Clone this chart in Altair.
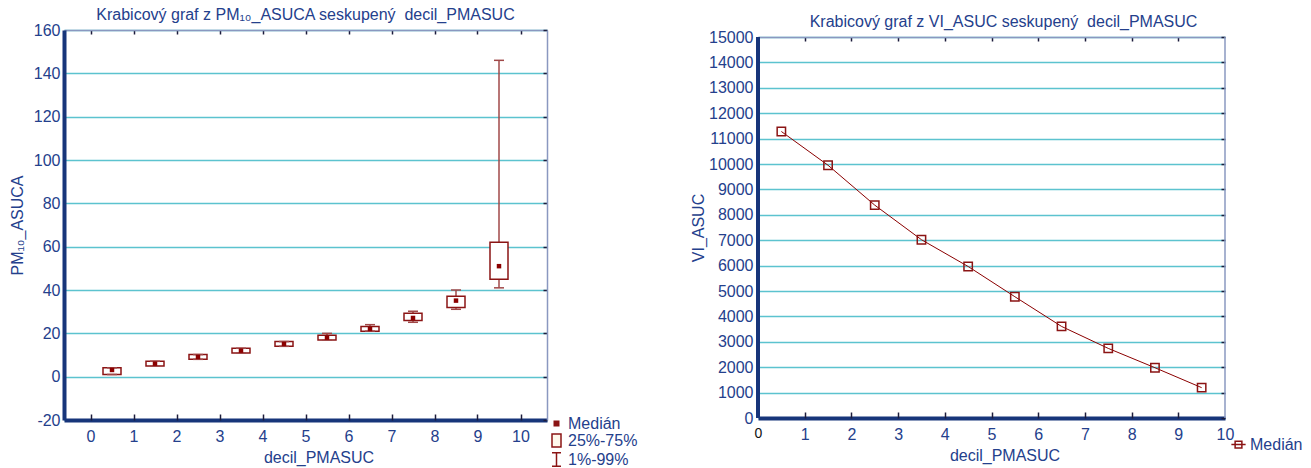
import altair as alt
import pandas as pd

# ---------------- data ----------------
decil_pos = [0.5, 1.5, 2.5, 3.5, 4.5, 5.5, 6.5, 7.5, 8.5, 9.5]

# PM10_ASUCA box plot (1%, 25%, median, 75%, 99%)
pm_p01 = [1.0, 4.9, 8.0, 10.9, 14.0, 16.9, 21.0, 25.1, 31.1, 41.0]
pm_q1 = [1.0, 4.9, 8.0, 10.9, 14.0, 16.9, 21.0, 25.9, 31.9, 45.0]
pm_med = [3.1, 6.0, 9.1, 12.0, 15.1, 18.0, 22.0, 27.1, 35.1, 51.0]
pm_q3 = [4.1, 7.1, 10.2, 13.1, 16.2, 19.1, 23.1, 29.3, 37.1, 62.0]
pm_p99 = [4.1, 7.1, 10.2, 13.1, 16.2, 20.0, 24.0, 30.2, 40.0, 146.0]

# VI_ASUC medians
vi_med = [11280, 9950, 8380, 7020, 5965, 4775, 3605, 2740, 1980, 1195]

left_legend_labels = ["Medián", "25%-75%", "1%-99%"]
right_legend_labels = ["Medián"]

left_x_ticks = list(range(0, 11))
left_y_ticks = list(range(-20, 161, 20))
right_x_ticks = list(range(0, 11))
right_x_inner = list(range(1, 10))
right_y_ticks = list(range(0, 15001, 1000))
right_y_max = 15000

# ---------------- styles ----------------
FONT = "Liberation Sans"
NAVY = "#24408c"
AXIS = "#17357a"
BORDER = "#8a98c0"
GRID = "#5cc3cf"
RED = "#8b1414"
DARK = "#8b0000"
WHISK = "#a04848"
TICK = "#1c1c3c"

W1, H1 = 483, 390
W2, H2 = 467, 388      # right panel drawn 7 px lower inside this area
H2_TOP_GAP = 7

box_df = pd.DataFrame({"decil": decil_pos, "p01": pm_p01, "q1": pm_q1,
                       "med": pm_med, "q3": pm_q3, "p99": pm_p99})
caps_df = pd.DataFrame({"decil": decil_pos + decil_pos, "val": pm_p01 + pm_p99})
vi_df = pd.DataFrame({"decil": decil_pos, "vi": vi_med})
leg1_df = pd.DataFrame({"decil": [-5.0] * 3, "val": [0.0] * 3, "leg": left_legend_labels})
leg2_df = pd.DataFrame({"decil": [-5.0], "vi": [0.0], "leg2": right_legend_labels})
one_df = pd.DataFrame({"k": [0]})

HYPHEN_LABEL = "datum.value < 0 ? '-' + abs(datum.value) : '' + datum.value"


def txt_axis(**kw):
    base = dict(labelFont=FONT, labelFontSize=16, labelColor=NAVY, titleFont=FONT,
                titleFontSize=16, titleColor=NAVY, titleFontWeight="normal",
                labelFlush=False, labelOverlap=False, ticks=False, tickSize=0)
    base.update(kw)
    return alt.Axis(**base)


def border_axis(orient, offset, values, domain=True, size=4):
    return alt.Axis(orient=orient, offset=offset, values=values, labels=False, title=None,
                    grid=False, domain=domain, domainColor=BORDER, domainWidth=1.5,
                    ticks=True, tickColor=TICK, tickSize=size, tickWidth=1.5)


# ---------------- left chart ----------------
xs1 = alt.Scale(domain=[-0.5, 10.5], nice=False, zero=False)
ys1 = alt.Scale(domain=[-20, 160], nice=False, zero=False)

x_main1 = txt_axis(orient="bottom", values=left_x_ticks, title="decil_PMASUC", grid=False,
                   domainColor=AXIS, domainWidth=4, labelPadding=8, titlePadding=5,
                   titleX=W1 / 2 + 13)
y_main1 = txt_axis(orient="left", values=left_y_ticks, title="PM₁₀_ASUCA", grid=True,
                   gridColor=GRID, gridWidth=1.5, domainColor=AXIS, domainWidth=4,
                   labelPadding=4, titlePadding=8, labelExpr=HYPHEN_LABEL)

whisk = alt.Chart(box_df).mark_rule(color=WHISK, strokeWidth=1.5).encode(
    x=alt.X("decil:Q", scale=xs1, axis=x_main1),
    y=alt.Y("p01:Q", scale=ys1, axis=y_main1),
    y2="p99:Q",
)
caps = alt.Chart(caps_df).mark_tick(orient="horizontal", size=10, thickness=1.5,
                                    color=WHISK, opacity=1).encode(
    x=alt.X("decil:Q", scale=xs1, axis=None),
    y=alt.Y("val:Q", scale=ys1, axis=None),
)
boxes = alt.Chart(box_df).mark_bar(size=18, fill="white", stroke=RED,
                                   strokeWidth=1.5).encode(
    x=alt.X("decil:Q", scale=xs1, axis=None),
    y=alt.Y("q1:Q", scale=ys1, axis=None),
    y2="q3:Q",
)
meds = alt.Chart(box_df).mark_square(size=20, color=DARK, opacity=1).encode(
    x=alt.X("decil:Q", scale=xs1, axis=None),
    y=alt.Y("med:Q", scale=ys1, axis=None),
)
frame1 = alt.Chart(box_df).mark_point(opacity=0).encode(
    x=alt.X("decil:Q", scale=xs1, axis=border_axis("bottom", -H1, left_x_ticks)),
    y=alt.Y("med:Q", scale=ys1, axis=border_axis("left", -W1, left_y_ticks)),
)
inner1 = alt.Chart(box_df).mark_point(opacity=0).encode(
    x=alt.X("decil:Q", scale=xs1, axis=border_axis("top", -H1, left_x_ticks, domain=False, size=6)),
    y=alt.Y("med:Q", scale=ys1, axis=None),
)

leg1 = alt.Legend(orient="none", legendX=484, legendY=385, title=None, labelFont=FONT,
                  labelFontSize=16, labelColor=NAVY, symbolSize=225, symbolStrokeWidth=1.5,
                  rowPadding=-3.5, labelOffset=3, padding=0, symbolOpacity=1)
# median: nested squares so the stroke fills it solid; box; whisker I-beam
leg1_paths = ["M-0.3,-0.3H0.3V0.3H-0.3ZM-0.1,-0.1H0.1V0.1H-0.1Z",
              "M-0.6,-0.87H0.6V0.87H-0.6Z",
              "M-0.6,-0.9H0.6M0,-0.9V0.9M-0.6,0.9H0.6"]
legend1 = alt.Chart(leg1_df).mark_point(clip=True, opacity=1, strokeWidth=1.5,
                                        fill="#fff8ec", stroke=RED).encode(
    x=alt.X("decil:Q", scale=xs1, axis=None),
    y=alt.Y("val:Q", scale=ys1, axis=None),
    shape=alt.Shape("leg:N", sort=left_legend_labels,
                    scale=alt.Scale(domain=left_legend_labels, range=leg1_paths), legend=leg1),
)

left = alt.layer(whisk, boxes, caps, meds, frame1, inner1, legend1).resolve_axis(
    x="independent", y="independent"
).properties(
    width=W1, height=H1,
    title=alt.TitleParams("Krabicový graf z PM₁₀_ASUCA seskupený \u00a0decil_PMASUC",
                          font=FONT, fontSize=16, fontWeight="normal", color=NAVY, offset=-1),
)

# ---------------- right chart ----------------
xs2 = alt.Scale(domain=[0, 10], nice=False, zero=False)
ys2 = alt.Scale(domain=[0, right_y_max * H2 / (H2 - H2_TOP_GAP)], nice=False, zero=False)

x_main2 = txt_axis(orient="bottom", values=right_x_ticks, title="decil_PMASUC", grid=False,
                   domainColor=AXIS, domainWidth=4, labelPadding=8, titlePadding=5,
                   titleX=W2 / 2 + 13,
                   labelColor=alt.ExprRef(expr="datum.value === 0 ? '#111111' : '" + NAVY + "'"),
                   labelFontSize=alt.ExprRef(expr="datum.value === 0 ? 14 : 16"))
y_main2 = txt_axis(orient="left", values=right_y_ticks, title="VI_ASUC", grid=True, format="d",
                   gridColor=GRID, gridWidth=1.5, domain=False,
                   labelPadding=5, titlePadding=2, titleY=(H2 + H2_TOP_GAP) / 2)

line2 = alt.Chart(vi_df).mark_line(color=DARK, strokeWidth=1).encode(
    x=alt.X("decil:Q", scale=xs2, axis=x_main2),
    y=alt.Y("vi:Q", scale=ys2, axis=y_main2),
)
pts2 = alt.Chart(vi_df).mark_point(shape="square", size=70, filled=False, color=RED,
                                   strokeWidth=1.5, opacity=1).encode(
    x=alt.X("decil:Q", scale=xs2, axis=None),
    y=alt.Y("vi:Q", scale=ys2, axis=None),
)
left_edge2 = alt.Chart(one_df).mark_rule(color=AXIS, strokeWidth=4).encode(
    x=alt.X(datum=0, scale=xs2, axis=None),
    y=alt.Y(datum=0, scale=ys2, axis=None),
    y2=alt.Y2(datum=right_y_max),
)
right_edge2 = alt.Chart(one_df).mark_rule(color=BORDER, strokeWidth=1.5).encode(
    x=alt.X(datum=10, scale=xs2, axis=None),
    y=alt.Y(datum=0, scale=ys2, axis=None),
    y2=alt.Y2(datum=right_y_max),
)
frame2 = alt.Chart(vi_df).mark_point(opacity=0).encode(
    x=alt.X("decil:Q", scale=xs2,
            axis=border_axis("bottom", -(H2 - H2_TOP_GAP), right_x_inner)),
    y=alt.Y("vi:Q", scale=ys2, axis=border_axis("left", -W2, right_y_ticks, domain=False)),
)
inner2 = alt.Chart(vi_df).mark_point(opacity=0).encode(
    x=alt.X("decil:Q", scale=xs2, axis=border_axis("top", -H2, right_x_inner, domain=False, size=6)),
    y=alt.Y("vi:Q", scale=ys2, axis=None),
)
leg2 = alt.Legend(orient="none", legendX=472, legendY=406, title=None, labelFont=FONT,
                  labelFontSize=16, labelColor=NAVY, symbolSize=225, symbolStrokeWidth=1.5,
                  rowPadding=0, labelOffset=3, padding=0, symbolOpacity=1)
legend2 = alt.Chart(leg2_df).mark_point(clip=True, opacity=1, strokeWidth=1.5, color=RED,
                                        filled=False).encode(
    x=alt.X("decil:Q", scale=xs2, axis=None),
    y=alt.Y("vi:Q", scale=ys2, axis=None),
    shape=alt.Shape("leg2:N", scale=alt.Scale(domain=right_legend_labels,
                                              range=["M-0.95,0H0.95M-0.45,-0.45H0.45V0.45H-0.45Z"]),
                    legend=leg2),
)

right = alt.layer(line2, left_edge2, right_edge2, pts2, frame2, inner2, legend2).resolve_axis(
    x="independent", y="independent"
).properties(
    width=W2, height=H2,
    title=alt.TitleParams("Krabicový graf z VI_ASUC seskupený \u00a0decil_PMASUC",
                          font=FONT, fontSize=16, fontWeight="normal", color=NAVY, offset=-1,
                          dx=12),
)

chart = alt.hconcat(left, right, spacing=52).resolve_scale(
    shape="independent"
).resolve_legend(
    shape="independent"
).properties(
    padding={"left": 9, "top": 7, "right": 5, "bottom": 0}
).configure(font=FONT).configure_view(stroke=None)

chart.save("out.html", embed_options={"renderer": "svg", "actions": False})
